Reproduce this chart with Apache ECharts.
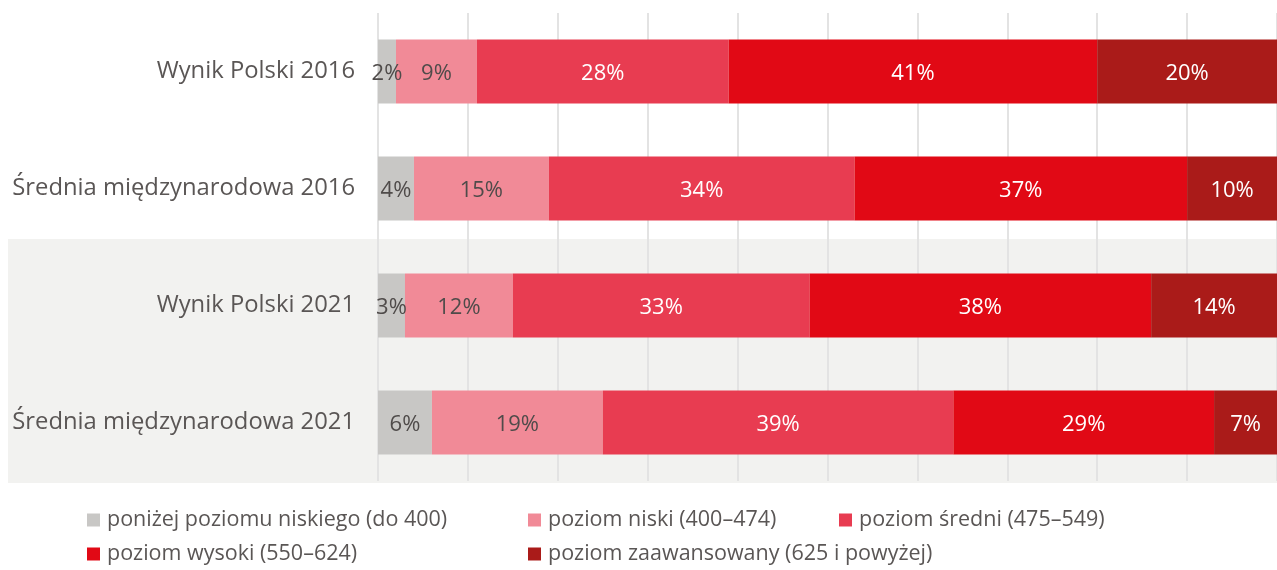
<!DOCTYPE html>
<html>
<head>
<meta charset="utf-8">
<script src="https://cdn.jsdelivr.net/npm/echarts@6/dist/echarts.min.js"></script>
<style>
html,body{margin:0;padding:0;background:#fff;}
#c{width:1277px;height:570px;}
</style>
</head>
<body>
<div id="c"></div>
<script>
const categories = ['Wynik Polski 2016', 'Średnia międzynarodowa 2016', 'Wynik Polski 2021', 'Średnia międzynarodowa 2021'];
const seriesNames = ['poniżej poziomu niskiego (do 400)', 'poziom niski (400–474)', 'poziom średni (475–549)', 'poziom wysoki (550–624)', 'poziom zaawansowany (625 i powyżej)'];
const belowLow = [2, 4, 3, 6];
const low = [9, 15, 12, 19];
const mid = [28, 34, 33, 39];
const high = [41, 37, 38, 29];
const advanced = [20, 10, 14, 7];

const colors = ['#c8c7c5', '#f18a97', '#e83c51', '#e10915', '#aa1b19'];
const labelColors = ['#4f4b4a', '#4f4b4a', '#ffffff', '#ffffff', '#ffffff'];
const values = [belowLow, low, mid, high, advanced];
const FONT = '"Open Sans", sans-serif';

const chart = echarts.init(document.getElementById('c'), null, {renderer: 'canvas'});

const series = values.map((arr, i) => ({
  name: seriesNames[i],
  type: 'bar',
  stack: 'total',
  barWidth: 64,
  data: arr,
  itemStyle: {color: colors[i]},
  label: {
    show: true,
    position: 'inside',
    formatter: '{c}%',
    color: labelColors[i],
    fontFamily: FONT,
    fontSize: 22,
    offset: [0, 2]
  },
  emphasis: {disabled: true}
}));

const legendPos = [
  [87, 508], [528, 508], [839, 508],
  [87, 542], [528, 542]
];

const legends = seriesNames.map((n, i) => ({
  data: [n],
  left: legendPos[i][0],
  top: legendPos[i][1],
  padding: 0,
  itemWidth: 13,
  itemHeight: 13,
  icon: 'rect',
  selectedMode: false,
  textStyle: {
    fontFamily: FONT,
    fontSize: 21.5,
    color: '#5a5655',
    lineHeight: 24,
    padding: [0, 0, 0, 2]
  }
}));

chart.setOption({
  animation: false,
  backgroundColor: '#ffffff',
  grid: {left: 378, width: 900, top: 13, height: 468, containLabel: false},
  xAxis: {
    type: 'value',
    min: 0,
    max: 100,
    interval: 10,
    axisLabel: {show: false},
    axisLine: {show: false},
    axisTick: {show: false},
    splitLine: {show: true, lineStyle: {color: '#e3e3e3', width: 2}}
  },
  yAxis: {
    type: 'category',
    data: categories,
    inverse: true,
    axisLine: {show: false},
    axisTick: {show: false},
    axisLabel: {
      fontFamily: FONT,
      fontSize: 23.8,
      color: '#5a5655',
      margin: 23,
      padding: [4, 0, 0, 0]
    }
  },
  legend: legends,
  series: series
});

// light background band behind the 2021 rows
const yTop = chart.convertToPixel({yAxisIndex: 0}, categories[2]);
const yPrev = chart.convertToPixel({yAxisIndex: 0}, categories[1]);
const yLast = chart.convertToPixel({yAxisIndex: 0}, categories[3]);
const half = (yTop - yPrev) / 2;
const bandTop = yTop - half - 8;
const bandBottom = yLast + half + 2;
chart.setOption({
  graphic: [{
    type: 'rect',
    z: -10,
    silent: true,
    shape: {x: 8, y: bandTop, width: 1277 - 8, height: bandBottom - bandTop},
    style: {fill: '#f2f2f0'}
  }]
});
</script>
</body>
</html>
